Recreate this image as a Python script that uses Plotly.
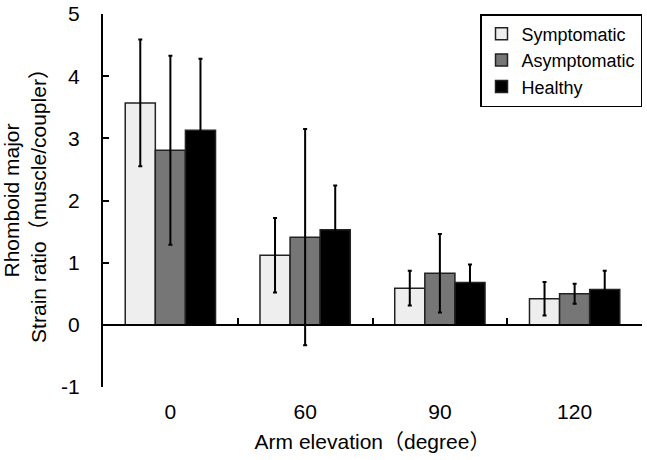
import plotly.graph_objects as go

categories = ["0", "60", "90", "120"]
series_names = ["Symptomatic", "Asymptomatic", "Healthy"]
symptomatic = [3.57, 1.12, 0.59, 0.42]
symptomatic_sd = [1.02, 0.60, 0.28, 0.27]
asymptomatic = [2.81, 1.41, 0.83, 0.50]
asymptomatic_sd = [1.52, 1.74, 0.63, 0.16]
healthy = [3.13, 1.53, 0.68, 0.57]
healthy_sd = [1.15, 0.71, 0.29, 0.30]
colors = ["#eeeeee", "#767676", "#000000"]
boundaries = [0.5, 1.5, 2.5, 3.5]
y_tickvals = [-1, 0, 1, 2, 3, 4, 5]
y_ticktext = ["-1", "0", "1", "2", "3", "4", "5"]

FONT = "Liberation Sans, Arial, Noto Sans CJK JP, sans-serif"

fig = go.Figure()
for name, vals, sd, col in zip(series_names,
                               [symptomatic, asymptomatic, healthy],
                               [symptomatic_sd, asymptomatic_sd, healthy_sd],
                               colors):
    fig.add_trace(go.Bar(
        name=name, x=categories, y=vals,
        marker=dict(color=col, line=dict(color="#222222", width=1.5)),
        error_y=dict(type="data", array=sd, visible=True, color="#000000",
                     thickness=2, width=2),
    ))

# invisible trace to carry the zero-line axis
fig.add_trace(go.Scatter(x=[], y=[], xaxis="x2", showlegend=False, hoverinfo="skip"))

fig.update_layout(
    width=647, height=460,
    margin=dict(l=103, r=5, t=14, b=73, autoexpand=False),
    paper_bgcolor="white", plot_bgcolor="white",
    font=dict(family=FONT, size=21, color="#000000"),
    barmode="group", bargap=0.33, bargroupgap=0,
    showlegend=True,
    legend=dict(x=1, y=1, xanchor="right", yanchor="top",
                bordercolor="#000000", borderwidth=1.5,
                font=dict(size=18, family=FONT), tracegroupgap=0,
                itemwidth=30, bgcolor="white"),
    xaxis=dict(showline=False, ticks="", showgrid=False, zeroline=False,
               automargin=False, ticklabelstandoff=10,
               title=dict(text="Arm elevation（degree）", standoff=12,
                          font=dict(size=21))),
    xaxis2=dict(overlaying="x", anchor="free", position=1/6, range=[-0.5, 3.5],
                showline=True, linecolor="#000000", linewidth=2,
                tickmode="array", tickvals=boundaries, ticks="inside",
                ticklen=6, tickwidth=2, tickcolor="#000000",
                showticklabels=False, showgrid=False, zeroline=False,
                automargin=False),
    yaxis=dict(range=[-1, 5], tickmode="array", tickvals=y_tickvals,
               ticktext=y_ticktext, showline=True, linecolor="#000000",
               linewidth=2, ticks="inside", ticklen=6, tickwidth=2,
               tickcolor="#000000", showgrid=False, zeroline=False,
               automargin=False, ticklabelstandoff=17,
               title=dict(text="Rhomboid major<br>Strain ratio（muscle/coupler）",
                          standoff=18, font=dict(size=21))),
)

fig.write_html("out.html", config={"displayModeBar": False},
               post_script="document.body.style.margin='0px';document.body.style.padding='0px';")
